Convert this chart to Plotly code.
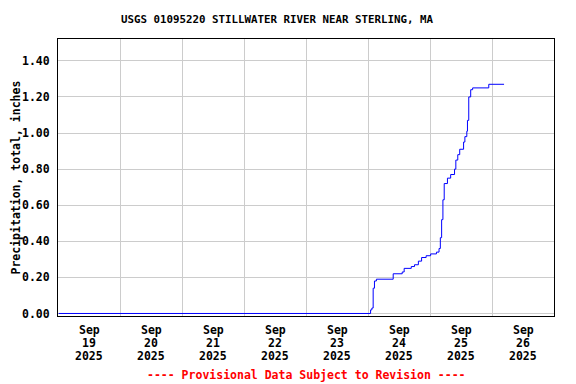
import plotly.graph_objects as go

times = [
    "2025-09-19 00:15", "2025-09-24 01:00", "2025-09-24 01:30", "2025-09-24 02:00",
    "2025-09-24 02:30", "2025-09-24 03:15", "2025-09-24 09:45", "2025-09-24 13:15",
    "2025-09-24 14:00", "2025-09-24 16:45", "2025-09-24 18:00", "2025-09-24 19:30",
    "2025-09-24 20:45", "2025-09-24 22:30", "2025-09-25 00:15", "2025-09-25 02:30",
    "2025-09-25 03:30", "2025-09-25 04:00", "2025-09-25 04:30", "2025-09-25 05:00",
    "2025-09-25 05:30", "2025-09-25 06:45", "2025-09-25 08:00", "2025-09-25 09:30",
    "2025-09-25 10:00", "2025-09-25 10:45", "2025-09-25 11:30", "2025-09-25 13:00",
    "2025-09-25 13:30", "2025-09-25 14:15", "2025-09-25 14:30", "2025-09-25 15:00",
    "2025-09-25 15:45", "2025-09-25 16:30", "2025-09-25 22:45", "2025-09-26 04:40",
]
precip = [
    0.00, 0.02, 0.03, 0.14,
    0.18, 0.19, 0.22, 0.23,
    0.25, 0.26, 0.27, 0.29,
    0.31, 0.32, 0.33, 0.34,
    0.36, 0.42, 0.52, 0.63,
    0.72, 0.75, 0.77, 0.80,
    0.85, 0.88, 0.91, 0.95,
    0.98, 1.01, 1.07, 1.20,
    1.24, 1.25, 1.27, 1.27,
]

day_labels = ["19", "20", "21", "22", "23", "24", "25", "26"]
month_label = "Sep"
year_label = "2025"
label_times = [f"2025-09-{d} 12:00" for d in day_labels]
grid_times = [f"2025-09-{d} 00:00" for d in ["20", "21", "22", "23", "24", "25", "26"]]
y_ticks = [0.0, 0.2, 0.4, 0.6, 0.8, 1.0, 1.2, 1.4]

title = "USGS 01095220 STILLWATER RIVER NEAR STERLING, MA"
y_title = "Precipitation, total, inches"
footer = "---- Provisional Data Subject to Revision ----"

font_fam = "DejaVu Sans Mono"
bold = dict(family=font_fam, size=11.5, weight="bold", color="black")

fig = go.Figure()
fig.add_trace(go.Scatter(
    x=times, y=precip, mode="lines", line=dict(color="#0000ff", width=1, shape="hv"),
    showlegend=False,
))

annotations = [
    dict(text=title, xref="paper", yref="paper", x=0.4425, y=1.0, yshift=20,
         xanchor="center", yanchor="middle", showarrow=False,
         font=dict(family=font_fam, size=10.8, weight="bold", color="black")),
    dict(text=footer, xref="paper", yref="paper", x=0.5, y=0, yshift=-59,
         xanchor="center", yanchor="middle", showarrow=False,
         font=dict(family=font_fam, size=11.5, weight="bold", color="#ff0000")),
    dict(text=y_title, xref="paper", yref="paper", x=0, y=0.5, xshift=-43,
         textangle=-90, xanchor="center", yanchor="middle", showarrow=False,
         borderpad=0, font=bold),
]
for t, d in zip(label_times, day_labels):
    for k, txt in enumerate([month_label, d, year_label]):
        annotations.append(dict(
            text=txt, xref="x", yref="paper", x=t, y=0, yshift=-14 - 13 * k,
            xanchor="center", yanchor="middle", showarrow=False, font=bold,
        ))

# the page body adds an 8px offset; the figure is sized so the visible page matches
fig.update_layout(
    width=568, height=376,
    margin=dict(l=50, r=22, t=31, b=68),
    paper_bgcolor="white", plot_bgcolor="white",
    font=dict(family=font_fam, size=11.5, color="black"),
    xaxis=dict(
        range=["2025-09-19 00:00", "2025-09-27 00:00"],
        showticklabels=False, automargin=False,
        showgrid=False, ticks="", showline=True, linecolor="black", linewidth=1, mirror=True,
        minor=dict(tickvals=grid_times, showgrid=True, gridcolor="#cccccc", gridwidth=1, ticks=""),
        zeroline=False,
    ),
    yaxis=dict(
        range=[-0.014, 1.521], automargin=False,
        tickmode="array", tickvals=y_ticks, tickformat=".2f",
        showgrid=True, gridcolor="#cccccc", gridwidth=1,
        ticks="outside", ticklen=5, tickcolor="white",
        showline=True, linecolor="black", linewidth=1, mirror=True, zeroline=False,
        tickfont=bold,
    ),
    annotations=annotations,
)

fig.write_html("out.html")
